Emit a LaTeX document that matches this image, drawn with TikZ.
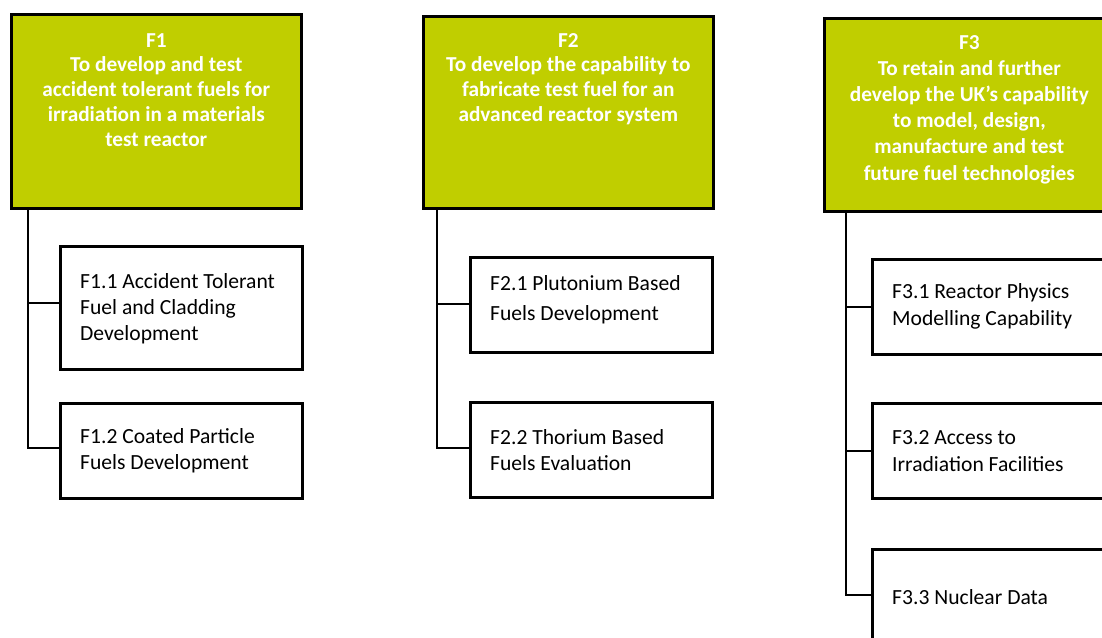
\documentclass[tikz,border=0pt]{standalone}
\usepackage{fontspec}
\setmainfont{Carlito}
\definecolor{headgreen}{RGB}{192,206,0}
\begin{document}
\begin{tikzpicture}[x=1pt,y=-1pt,
  headbox/.style={draw=black,line width=2.6pt,fill=headgreen,anchor=north west,inner sep=0pt,minimum width=290pt},
  headtext/.style={anchor=north,inner sep=0pt,text=white,font=\bfseries\fontsize{21.3}{24.75}\selectfont,align=center},
  subbox/.style={draw=black,line width=2.6pt,fill=white,anchor=north west,inner sep=0pt,minimum width=242pt,minimum height=95pt},
  subtext/.style={anchor=west,inner sep=0pt,align=left,font=\fontsize{21.6}{26}\selectfont},
  link/.style={draw=black,line width=2.6pt}]
\useasboundingbox (0,0) rectangle (1102,637);
\clip (0,0) rectangle (1102,637);
% header boxes
\node[headbox,minimum height=194pt] (f1) at (10,13) {};
\node[headbox,minimum height=192pt] (f2) at (422,15) {};
\node[headbox,minimum height=193pt] (f3) at (823,17) {};
\node[headtext] (f1t) at ([yshift=-20pt]f1.north) {F1\\To develop and test\\accident tolerant fuels for\\irradiation in a materials\\test reactor};
\node[headtext] (f2t) at ([yshift=-18pt]f2.north) {F2\\To develop the capability to\\fabricate test fuel for an\\advanced reactor system};
\node[headtext,font=\bfseries\fontsize{21.3}{26.2}\selectfont] (f3t) at ([yshift=-18pt]f3.north) {F3\\To retain and further\\develop the UK’s capability\\to model, design,\\manufacture and test\\future fuel technologies};
% sub boxes
\node[subbox,minimum height=123pt] (f11) at (59,245) {};
\node[subbox] (f12) at (59,402) {};
\node[subbox] (f21) at (469,256) {};
\node[subbox] (f22) at (469,401) {};
\node[subbox] (f31) at (871,258) {};
\node[subbox] (f32) at (871,402) {};
\node[subbox] (f33) at (871,548) {};
% sub texts
\node[subtext] (f11t) at ([xshift=21pt,yshift=-0.5pt]f11.west) {F1.1 Accident Tolerant\\Fuel and Cladding\\Development};
\node[subtext] (f12t) at ([xshift=21pt]f12.west) {F1.2 Coated Particle\\Fuels Development};
\node[subtext,font=\fontsize{21.6}{30}\selectfont] (f21t) at ([xshift=21pt,yshift=5pt]f21.west) {F2.1 Plutonium Based\\Fuels Development};
\node[subtext] (f22t) at ([xshift=21pt]f22.west) {F2.2 Thorium Based\\Fuels Evaluation};
\node[subtext,font=\fontsize{21.6}{27}\selectfont] (f31t) at ([xshift=21pt]f31.west) {F3.1 Reactor Physics\\Modelling Capability};
\node[subtext,font=\fontsize{21.6}{27}\selectfont] (f32t) at ([xshift=21pt]f32.west) {F3.2 Access to\\Irradiation Facilities};
\node[subtext] (f33t) at ([xshift=21pt]f33.west) {F3.3 Nuclear Data};
% connectors
\draw[link] ([xshift=18pt]f1.south west) |- ([yshift=3pt]f12.west);
\draw[link] ([xshift=18pt]f1.south west |- f11.west) ++(0,-5) -- ([yshift=5pt]f11.west);
\draw[link] ([xshift=15pt]f2.south west) |- ([yshift=2pt]f22.west);
\draw[link] ([xshift=15pt]f2.south west |- f21.west) ++(0,-1) -- ([yshift=1pt]f21.west);
\draw[link] ([xshift=23pt]f3.south west) |- ([yshift=2pt]f33.west);
\draw[link] ([xshift=23pt]f3.south west |- f31.west) -- (f31.west);
\draw[link] ([xshift=23pt]f3.south west |- f32.west) -- (f32.west);
\end{tikzpicture}
\end{document}
